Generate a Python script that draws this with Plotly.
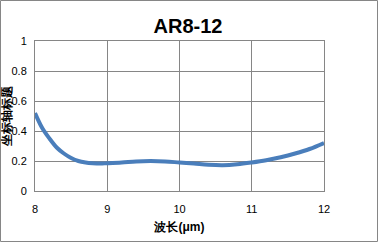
import plotly.graph_objects as go

wavelength = [8.0, 8.1, 8.2, 8.3, 8.4, 8.5, 8.6, 8.7, 8.8, 8.9, 9.0, 9.2, 9.4, 9.6, 9.8,
              10.0, 10.2, 10.4, 10.6, 10.8, 11.0, 11.2, 11.4, 11.6, 11.8, 12.0]
values = [0.52, 0.42, 0.35, 0.29, 0.25, 0.22, 0.20, 0.19, 0.185, 0.183, 0.185, 0.19, 0.197, 0.20, 0.197,
          0.19, 0.183, 0.175, 0.172, 0.178, 0.19, 0.205, 0.225, 0.25, 0.28, 0.32]
x_ticks = [8, 9, 10, 11, 12]
y_ticks = [0, 0.2, 0.4, 0.6, 0.8, 1]
y_tick_text = ["0", "0.2", "0.4", "0.6", "0.8", "1"]

fig = go.Figure()
fig.add_trace(go.Scatter(x=wavelength, y=values, mode="lines",
                         line=dict(color="#4A7EBB", width=4, shape="spline", smoothing=1.0),
                         hoverinfo="skip", showlegend=False))

L, R, T, B = 35, 54, 41, 51
W, H = 378, 242
pw, ph = W - L - R, H - T - B

fig.update_layout(
    width=W, height=H,
    margin=dict(l=L, r=R, t=T, b=B, autoexpand=False),
    paper_bgcolor="white", plot_bgcolor="white",
    font=dict(family="Liberation Sans, Arial, sans-serif", size=11, color="black"),
    title=dict(text="<b>AR8-12</b>", x=188 / W, xanchor="center", y=1 - 26 / H, yanchor="middle",
               font=dict(size=20, color="black")),
    xaxis=dict(range=[8, 12], tickvals=x_ticks, showgrid=True, gridcolor="#868686", gridwidth=1,
               showline=True, linecolor="#868686", linewidth=1, mirror=True, zeroline=False,
               ticks="", ticklabelstandoff=8, automargin=False,
               title=dict(text="<b>波长(μm)</b>", standoff=8, font=dict(size=12))),
    yaxis=dict(range=[0, 1], tickvals=y_ticks, ticktext=y_tick_text, showgrid=True, gridcolor="#868686",
               gridwidth=1, showline=True, linecolor="#868686", linewidth=1, mirror=True, zeroline=False,
               ticks="", ticklabelstandoff=5, automargin=False,
               title=dict(text="<b>坐标轴标题</b>", standoff=2, font=dict(size=12))),
)

fig.add_shape(type="rect", xref="paper", yref="paper",
              x0=(0.5 - L) / pw, x1=(W - 0.5 - L) / pw,
              y0=(H - B - (H - 0.5)) / ph, y1=(H - B - 0.5) / ph,
              line=dict(color="#868686", width=1), layer="below")

fig.write_html("out.html")
